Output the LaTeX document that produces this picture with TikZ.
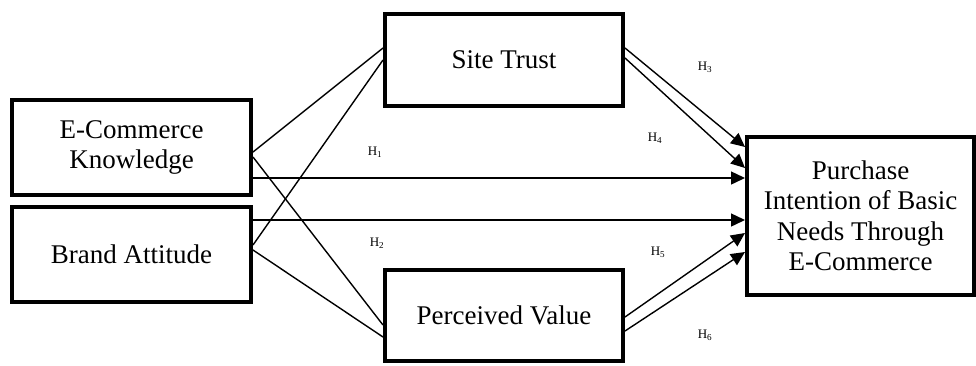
\documentclass[tikz,border=0pt]{standalone}
\usepackage{fontspec}
\setmainfont{Liberation Serif}
\usetikzlibrary{arrows.meta}

\tikzset{
  construct/.style={draw, line width=4pt, inner sep=0pt, align=center,
    font=\fontsize{27}{30.5}\selectfont},
  link/.style={line width=1.4pt},
  path arrow/.style={line width=1.4pt, -{Triangle[length=14pt,width=13pt]}},
  hyp/.style={font=\fontsize{13}{15}\selectfont, inner sep=0pt}
}

\begin{document}
\begin{tikzpicture}[x=1pt,y=-1pt]
\useasboundingbox (0,0) rectangle (976,365);

% constructs
\node[construct, minimum width=239pt, minimum height=95pt] (ek) at (131.5,147.5) {E-Commerce\\Knowledge};
\node[construct, minimum width=239pt, minimum height=95pt] (ba) at (131.5,254.5) {Brand Attitude};
\node[construct, minimum width=238pt, minimum height=92pt] (st) at (504,60) {Site Trust};
\node[construct, minimum width=238pt, minimum height=91pt] (pv) at (504,315.5) {Perceived Value};
\node[construct, minimum width=227pt, minimum height=158pt] (pi) at (860.5,216) {Purchase\\Intention of Basic\\Needs Through\\E-Commerce};

% antecedents to mediators
\draw[link] ([yshift=-4.5pt]ek.east) -- ([yshift=12pt]st.west);
\draw[link] ([yshift=9.5pt]ba.east) -- ([yshift=0pt]st.west);
\draw[link] ([yshift=-9.5pt]ek.east) -- ([yshift=-9.5pt]pv.west);
\draw[link] ([yshift=4.5pt]ba.east) -- ([yshift=-21.5pt]pv.west);

% direct paths
\draw[path arrow] ([yshift=-30.5pt]ek.east) -- ([yshift=38pt]pi.west);
\draw[path arrow] ([yshift=34.5pt]ba.east) -- ([yshift=-4pt]pi.west);

% mediator paths
\draw[path arrow] ([yshift=12pt]st.east) -- ([yshift=69pt]pi.west);
\draw[path arrow] ([yshift=2pt]st.east) -- ([yshift=48pt]pi.west);
\draw[path arrow] ([yshift=-1.5pt]pv.east) -- ([yshift=-17pt]pi.west);
\draw[path arrow] ([yshift=-15.5pt]pv.east) -- ([yshift=-36pt]pi.west);

% hypothesis labels
\node[hyp] (h1) at (375,152) {H\textsubscript{1}};
\node[hyp] (h2) at (377,243) {H\textsubscript{2}};
\node[hyp] (h3) at (705,67) {H\textsubscript{3}};
\node[hyp] (h4) at (655,138) {H\textsubscript{4}};
\node[hyp] (h5) at (658,252) {H\textsubscript{5}};
\node[hyp] (h6) at (705,335) {H\textsubscript{6}};
\end{tikzpicture}
\end{document}
